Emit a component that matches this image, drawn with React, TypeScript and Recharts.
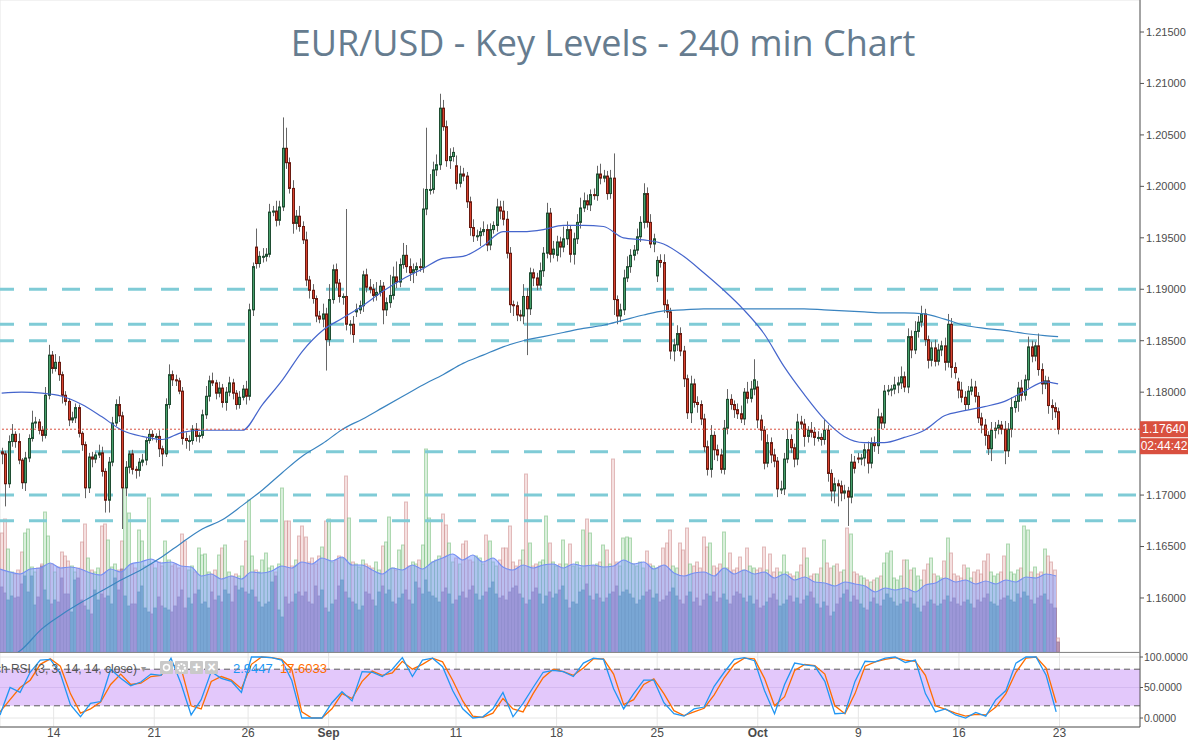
import React from 'react';
import {
  ComposedChart, Bar, Line, Area, XAxis, YAxis, CartesianGrid,
  ReferenceLine, ReferenceArea,
} from 'recharts';

const W = 1188;
const TOP_H = 652;
const BOT_H = 89;
const AXIS_W = 48;
const SLOTS = 341;
const BASE = 1.17; // candle values below are pips above this
const PRICE_DOMAIN = [1.15475, 1.21811];
const STOCH_DOMAIN = [-14.75, 108.2];
const FONT = '"Liberation Sans", Arial, sans-serif';

// 240 min closes, pips above 1.1700
const closes = [
  40, 11, 52, 59, 52, 34, 12, 36, 55, 70,
  71, 63, 58, 97, 136, 123, 129, 117, 97, 91,
  73, 75, 85, 60, 49, 7, 37, 35, 39, 41,
  23, -5, 32, 70, 88, 77, 7, 27, 40, 25,
  24, 32, 34, 53, 59, 57, 57, 45, 40, 88,
  117, 112, 111, 101, 55, 53, 53, 64, 57, 58,
  78, 96, 111, 109, 99, 104, 90, 100, 109, 99,
  88, 95, 103, 96, 180, 222, 225, 232, 232, 234,
  275, 276, 267, 280, 337, 323, 298, 264, 271, 261,
  248, 209, 199, 191, 174, 171, 176, 151, 190, 219,
  206, 193, 193, 166, 166, 156, 180, 184, 214, 202,
  200, 194, 197, 203, 180, 187, 194, 212, 207, 224,
  233, 222, 216, 219, 222, 221, 278, 297, 297, 316,
  321, 376, 358, 325, 329, 333, 303, 312, 310, 285,
  260, 252, 252, 256, 258, 243, 258, 262, 280, 276,
  268, 235, 185, 184, 175, 174, 193, 181, 216, 211,
  204, 218, 235, 274, 234, 239, 246, 241, 249, 258,
  234, 249, 265, 279, 286, 282, 292, 291, 312, 308,
  310, 293, 308, 190, 174, 180, 211, 222, 233, 238,
  251, 265, 293, 265, 244, 249, 228, 226, 185, 178,
  140, 146, 157, 140, 113, 80, 108, 90, 88, 74,
  47, 25, 58, 44, 39, 25, 65, 93, 88, 83,
  79, 74, 100, 94, 103, 112, 73, 63, 31, 51,
  39, 33, 6, 6, 35, 54, 46, 35, 71, 69,
  57, 63, 61, 56, 56, 54, 63, 21, 4, 11,
  9, 2, 4, -2, 32, 26, 35, 36, 44, 31,
  51, 48, 76, 70, 101, 102, 103, 107, 109, 115,
  105, 154, 141, 159, 168, 176, 151, 131, 143, 130,
  141, 145, 129, 166, 124, 119, 102, 95, 88, 101,
  105, 96, 75, 68, 58, 45, 63, 65, 68, 64,
  43, 64, 85, 91, 104, 97, 112, 144, 135, 145,
  122, 108, 111, 87, 85, 81, 64,
];
const firstOpen = 42;
// weekly session opens that gap away from the prior close (1-based candle)
const gapIdx = [77, 107, 137, 167, 197, 227, 257, 287];
const gapOpen = [241, 178, 320, 233, 213, 105, 36, 110];

const wickUp = [
  4, 3, 6, 10, 3, 8, 2, 6, 4, 12,
  5, 3, 4, 8, 10, 4, 8, 6, 3, 4,
  3, 6, 4, 3, 2, 3, 4, 5, 3, 8,
  6, 3, 5, 6, 5, 8, 4, 6, 3, 4,
  3, 4, 6, 3, 5, 4, 3, 6, 3, 6,
  10, 4, 5, 3, 4, 6, 5, 4, 6, 3,
  5, 10, 5, 8, 3, 6, 4, 5, 6, 4,
  3, 6, 4, 8, 6, 4, 18, 5, 8, 6,
  8, 5, 10, 6, 30, 20, 5, 8, 6, 10,
  5, 8, 4, 6, 3, 5, 10, 6, 15, 5,
  6, 4, 3, 85, 4, 8, 6, 5, 4, 6,
  8, 5, 10, 6, 4, 5, 20, 10, 15, 6,
  12, 10, 8, 6, 4, 8, 20, 60, 15, 8,
  10, 14, 8, 6, 8, 5, 10, 8, 6, 4,
  5, 8, 6, 4, 8, 5, 6, 4, 8, 6,
  10, 8, 6, 4, 4, 5, 12, 8, 5, 4,
  5, 8, 6, 10, 5, 8, 6, 5, 12, 8,
  4, 6, 8, 10, 8, 6, 5, 6, 8, 10,
  6, 5, 8, 24, 4, 6, 8, 10, 6, 5,
  8, 6, 10, 6, 8, 5, 4, 6, 8, 5,
  4, 6, 8, 6, 5, 4, 8, 5, 6, 4,
  5, 6, 10, 4, 5, 6, 8, 10, 5, 4,
  6, 8, 4, 10, 8, 20, 6, 5, 4, 8,
  5, 6, 4, 8, 6, 10, 5, 4, 8, 6,
  5, 4, 8, 5, 6, 4, 10, 5, 4, 6,
  4, 5, 6, 4, 8, 6, 5, 4, 6, 8,
  5, 6, 8, 4, 6, 5, 4, 8, 6, 10,
  5, 8, 6, 10, 6, 8, 5, 4, 6, 8,
  6, 5, 8, 10, 6, 5, 4, 8, 6, 5,
  8, 6, 4, 5, 6, 4, 8, 6, 5, 4,
  8, 6, 10, 5, 6, 8, 5, 10, 6, 4,
  12, 6, 5, 4, 6, 5, 4,
];
const wickDn = [
  10, 22, 4, 5, 6, 4, 6, 8, 4, 3,
  5, 4, 6, 3, 4, 5, 3, 6, 8, 4,
  6, 3, 5, 4, 6, 10, 5, 8, 4, 3,
  5, 12, 12, 4, 3, 6, 40, 8, 6, 5,
  8, 6, 4, 5, 3, 4, 6, 8, 12, 3,
  4, 6, 5, 3, 6, 8, 10, 4, 5, 6,
  3, 4, 5, 3, 6, 4, 5, 8, 4, 6,
  5, 4, 3, 8, 4, 6, 5, 4, 6, 5,
  3, 4, 6, 5, 4, 6, 5, 10, 6, 5,
  4, 6, 8, 5, 6, 4, 8, 30, 6, 4,
  5, 6, 8, 6, 10, 8, 5, 4, 6, 5,
  4, 6, 5, 4, 14, 6, 5, 4, 6, 5,
  4, 6, 8, 10, 6, 4, 5, 6, 5, 4,
  6, 5, 4, 6, 8, 5, 6, 4, 5, 6,
  8, 6, 5, 10, 4, 6, 5, 4, 6, 8,
  6, 5, 8, 10, 6, 5, 8, 45, 6, 8,
  5, 4, 6, 5, 8, 4, 6, 10, 5, 6,
  8, 10, 5, 6, 4, 5, 6, 4, 5, 6,
  4, 6, 5, 15, 8, 6, 5, 4, 6, 5,
  4, 5, 6, 5, 4, 8, 6, 5, 8, 6,
  8, 10, 6, 5, 8, 6, 10, 5, 8, 6,
  5, 6, 8, 10, 6, 4, 5, 6, 5, 8,
  5, 4, 6, 5, 4, 6, 8, 10, 6, 4,
  8, 6, 8, 5, 6, 4, 5, 8, 6, 5,
  10, 6, 5, 8, 4, 6, 5, 8, 10, 12,
  20, 8, 6, 28, 6, 5, 4, 6, 8, 10,
  5, 6, 8, 6, 5, 4, 6, 5, 8, 6,
  5, 6, 8, 4, 6, 5, 6, 8, 6, 5,
  4, 6, 8, 5, 10, 6, 8, 5, 6, 5,
  4, 6, 5, 8, 10, 6, 12, 8, 6, 5,
  13, 6, 8, 5, 10, 6, 5, 8, 6, 5,
  6, 10, 5, 8, 12, 6, 5,
];

// volume (two volume series) per candle
const volA = [
  119, 133, 103, 80, 78, 82, 100, 119, 123, 85,
  80, 84, 88, 140, 116, 88, 80, 85, 100, 96,
  91, 86, 80, 84, 110, 128, 94, 82, 80, 84,
  126, 128, 112, 85, 88, 82, 111, 164, 139, 88,
  84, 122, 111, 86, 154, 88, 84, 90, 86, 111,
  92, 86, 88, 84, 118, 111, 82, 86, 80, 104,
  97, 98, 80, 78, 82, 97, 104, 107, 80, 76,
  78, 76, 86, 111, 152, 96, 82, 80, 92, 99,
  84, 86, 80, 88, 164, 131, 131, 86, 92, 116,
  126, 115, 90, 94, 88, 96, 105, 131, 133, 90,
  92, 96, 94, 176, 134, 90, 88, 85, 92, 88,
  86, 84, 90, 82, 106, 110, 135, 84, 82, 102,
  107, 150, 86, 90, 88, 92, 107, 203, 134, 90,
  92, 96, 138, 127, 109, 90, 94, 88, 108, 111,
  92, 90, 96, 94, 88, 117, 111, 90, 86, 92,
  104, 104, 126, 90, 86, 92, 102, 178, 109, 86,
  88, 90, 92, 136, 109, 90, 86, 88, 112, 88,
  108, 86, 90, 84, 122, 133, 119, 86, 88, 90,
  107, 102, 88, 193, 90, 86, 114, 115, 114, 88,
  86, 90, 84, 101, 88, 86, 84, 86, 104, 109,
  122, 86, 84, 109, 102, 124, 88, 86, 90, 84,
  115, 105, 109, 86, 84, 88, 120, 84, 99, 82,
  84, 95, 82, 104, 86, 84, 82, 84, 105, 82,
  98, 80, 84, 80, 97, 80, 78, 76, 80, 87,
  104, 94, 76, 78, 78, 84, 112, 89, 84, 86,
  88, 80, 82, 124, 118, 80, 78, 76, 74, 72,
  70, 72, 74, 76, 89, 99, 101, 74, 72, 76,
  92, 92, 82, 84, 76, 72, 82, 88, 94, 78,
  76, 74, 91, 114, 99, 78, 76, 74, 87, 84,
  74, 80, 82, 78, 91, 98, 80, 76, 78, 80,
  96, 108, 80, 78, 82, 84, 126, 122, 80, 85,
  78, 80, 103, 96, 90, 82, 14,
];
const volB = [
  65, 59, 52, 56, 54, 55, 68, 76, 60, 76,
  47, 55, 86, 62, 52, 48, 52, 50, 74, 58,
  58, 40, 72, 74, 52, 46, 42, 38, 62, 52,
  58, 54, 56, 48, 74, 62, 83, 56, 46, 48,
  48, 60, 66, 44, 40, 38, 44, 55, 46, 44,
  42, 40, 46, 55, 62, 44, 54, 48, 58, 62,
  48, 50, 44, 60, 52, 56, 50, 62, 58, 50,
  66, 62, 64, 60, 58, 62, 55, 50, 45, 48,
  50, 70, 76, 42, 35, 55, 48, 50, 58, 60,
  56, 60, 50, 48, 66, 56, 62, 44, 40, 48,
  52, 66, 72, 60, 54, 50, 48, 42, 46, 60,
  58, 52, 46, 60, 66, 58, 62, 50, 48, 54,
  58, 62, 52, 48, 70, 64, 58, 72, 60, 56,
  54, 50, 60, 64, 58, 48, 52, 56, 60, 54,
  62, 66, 58, 52, 56, 60, 64, 70, 58, 54,
  56, 52, 60, 64, 66, 58, 54, 48, 52, 60,
  64, 58, 48, 56, 60, 54, 58, 62, 66, 52,
  44, 50, 48, 60, 62, 68, 56, 52, 58, 54,
  50, 54, 58, 60, 66, 56, 60, 62, 58, 54,
  48, 52, 56, 60, 62, 54, 58, 50, 52, 56,
  60, 64, 56, 52, 48, 56, 60, 50, 54, 46,
  52, 58, 56, 60, 50, 54, 58, 52, 48, 56,
  60, 58, 54, 50, 56, 48, 52, 44, 46, 50,
  54, 58, 52, 46, 48, 52, 56, 50, 54, 48,
  52, 56, 60, 54, 48, 44, 50, 46, 36, 40,
  48, 54, 58, 62, 50, 56, 52, 48, 44, 42,
  50, 54, 48, 46, 52, 58, 54, 50, 46, 48,
  52, 50, 54, 48, 44, 40, 46, 50, 52, 48,
  46, 48, 52, 56, 50, 54, 48, 46, 50, 52,
  48, 44, 52, 50, 54, 58, 50, 48, 46, 52,
  54, 56, 52, 50, 58, 54, 60, 56, 52, 48,
  54, 56, 58, 52, 48, 44, 10,
];
// volume average, read every 3rd candle
const volMA = [
  83, 80, 78, 83, 84, 89, 84, 85, 83, 79,
  77, 83, 80, 88, 90, 93, 89, 90, 86, 85,
  76, 78, 73, 76, 73, 80, 79, 81, 86, 84,
  90, 88, 94, 91, 95, 87, 87, 82, 78, 84,
  82, 87, 83, 90, 94, 98, 92, 97, 90, 94,
  85, 82, 87, 84, 87, 88, 84, 88, 86, 87,
  85, 86, 92, 88, 90, 83, 87, 79, 76, 79,
  80, 76, 84, 78, 82, 78, 80, 74, 78, 72,
  75, 70, 69, 66, 70, 68, 66, 60, 64, 62,
  64, 60, 67, 69, 74, 70, 72, 68, 71, 68,
  72, 70, 75, 74, 78, 76,
];
// Stoch RSI %K / %D, read every 3rd candle
const stochK = [
  5, 50, 42, 75, 95, 96, 73, 22, 2, 24,
  27, 80, 65, 53, 59, 72, 70, 98, 56, 5,
  30, 76, 65, 60, 42, 100, 100, 99, 95, 62,
  0, 0, 0, 25, 43, 28, 76, 75, 68, 80,
  99, 68, 95, 98, 84, 45, 15, 0, 2, 15,
  42, 2, 24, 50, 75, 78, 76, 68, 90, 98,
  96, 48, 15, 40, 62, 62, 25, 7, 3, 15,
  18, 52, 75, 96, 99, 94, 45, 7, 55, 90,
  87, 85, 60, 7, 8, 60, 93, 92, 98, 100,
  91, 95, 40, 10, 15, 5, 0, 9, 3, 30,
  45, 90, 100, 100, 70, 10,
];
const stochD = [
  10, 30, 50, 62, 88, 97, 85, 40, 8, 15,
  26, 55, 72, 55, 57, 68, 70, 88, 82, 20,
  15, 60, 68, 62, 48, 88, 100, 99, 96, 80,
  10, 0, 0, 15, 40, 32, 60, 77, 70, 74,
  93, 80, 88, 98, 92, 62, 28, 3, 1, 8,
  32, 15, 10, 40, 66, 80, 76, 70, 82, 97,
  97, 72, 22, 30, 55, 64, 40, 12, 4, 10,
  16, 38, 66, 88, 98, 97, 65, 20, 35, 78,
  88, 86, 72, 20, 7, 40, 85, 92, 96, 99,
  95, 93, 70, 20, 14, 8, 3, 6, 5, 18,
  40, 75, 98, 100, 82, 25,
];
// moving averages, pips above 1.1700, read once a day (every 6th candle) + last
const maFast = [
  99, 100, 99, 96, 88, 76, 63, 57, 54, 61,
  63, 63, 63, 88, 112, 140, 160, 172, 184, 198,
  210, 220, 230, 232, 242, 256, 256, 258, 262, 262,
  261, 250, 248, 244, 232, 216, 199, 180, 157, 125,
  98, 74, 57, 51, 51, 56, 63, 77, 82, 86,
  91, 101, 110, 108,
];
const maSlow = [
  -162, -150, -130, -116, -104, -93, -82, -72, -60, -46,
  -33, -24, -10, 5, 22, 38, 50, 64, 74, 85,
  96, 107, 117, 128, 136, 144, 150, 154, 158, 162,
  165, 170, 175, 179, 180, 181, 181, 181, 181, 181,
  181, 180, 179, 178, 177, 177, 176, 171, 165, 162,
  160, 157, 155, 154,
];

const keyLevels = [1.19, 1.1866, 1.185, 1.1742, 1.17, 1.1675];
const priceTicks = [1.155, 1.16, 1.165, 1.17, 1.175, 1.18, 1.185, 1.19, 1.195, 1.2, 1.205, 1.21, 1.215];
const stochTicks = [0, 50, 100];
const tickIdx = [16, 46, 74, 98, 136, 166, 196, 226, 256, 286, 316];
const tickLabels = ['14', '21', '26', 'Sep', '11', '18', '25', 'Oct', '9', '16', '23'];
const lastPrice = 1.1764;
const countdown = '02:44:42';
const stochLast = ['2.9447', '17.6033'];

const toPrice = (p: number) => +(BASE + p / 10000).toFixed(5);

const data: any[] = Array.from({ length: SLOTS }, (_, i) => {
  const row: any = { i };
  if (i < closes.length) {
    const g = gapIdx.indexOf(i + 1);
    const o = g >= 0 ? gapOpen[g] : i === 0 ? firstOpen : closes[i - 1];
    const c = closes[i];
    const hi = Math.max(o, c) + wickUp[i];
    const lo = Math.min(o, c) - wickDn[i];
    row.o = toPrice(o);
    row.c = toPrice(c);
    row.range = [toPrice(lo), toPrice(hi)];
    row.up = c >= o;
    row.va = volA[i];
    row.vb = volB[i];
  }
  if (i % 3 === 0 && i / 3 < volMA.length) {
    row.vm = volMA[i / 3];
    row.k = stochK[i / 3];
    row.d = stochD[i / 3];
  }
  return row;
});
maFast.forEach((v, j) => {
  const i = Math.min(j * 6, closes.length - 1);
  data[i].maF = toPrice(v);
  data[i].maS = toPrice(maSlow[j]);
});

const Candle = (props: any) => {
  const { x, y, width, height, payload } = props;
  if (!payload || !payload.range) return null;
  const [lo, hi] = payload.range;
  const top = Math.min(y, y + height);
  const h = Math.abs(height);
  const py = (v: number) => (hi === lo ? top : top + ((hi - v) / (hi - lo)) * h);
  const cx = Math.round(x + width / 2) + 0.5;
  const bTop = py(Math.max(payload.o, payload.c));
  const bBot = py(Math.min(payload.o, payload.c));
  const up = payload.up;
  return (
    <g>
      <line x1={cx} x2={cx} y1={top} y2={top + h} stroke="#666" strokeWidth={1} />
      <rect
        x={cx - 1}
        y={bTop}
        width={2}
        height={Math.max(bBot - bTop, 1)}
        fill={up ? '#46a06b' : '#d8432f'}
        stroke={up ? '#1f4d32' : '#6a1a10'}
        strokeWidth={1}
      />
    </g>
  );
};

const VolBar = (props: any) => {
  const { x, y, width, height, payload } = props;
  if (!payload || payload.va == null || !height) return null;
  const cx = Math.round(x + width / 2);
  const base = y + height;
  const hB = height * (payload.vb / payload.va);
  const up = payload.up;
  return (
    <g>
      <rect
        x={cx - 1.5} y={y} width={3} height={height}
        fill={up ? 'rgba(150,210,155,0.35)' : 'rgba(225,165,165,0.35)'}
        stroke={up ? 'rgba(130,195,135,0.6)' : 'rgba(210,150,150,0.6)'}
        strokeWidth={1}
      />
      <rect
        x={cx - 1.5} y={base - hB} width={3} height={hB}
        fill={up ? '#72b0a8' : '#b893b0'}
        stroke={up ? '#5f9c98' : '#a07f9e'}
        strokeWidth={0.8}
      />
    </g>
  );
};

const LastPriceLabel = (props: any) => {
  const vb = props.viewBox;
  if (!vb) return null;
  const x = vb.x + vb.width;
  const y = vb.y;
  return (
    <g fontFamily={FONT} fontSize={12}>
      <rect x={x} y={y - 8} width={AXIS_W} height={16} fill="#d9503f" />
      <text x={x + AXIS_W / 2} y={y + 4} textAnchor="middle" fill="#fff">{lastPrice.toFixed(5)}</text>
      <rect x={x} y={y + 9} width={AXIS_W} height={16} fill="#d9503f" />
      <text x={x + AXIS_W / 2} y={y + 21} textAnchor="middle" fill="#fff">{countdown}</text>
    </g>
  );
};

const XTick = (props: any) => {
  const { x, y, payload } = props;
  const lbl = tickLabels[tickIdx.indexOf(payload.value)];
  const bold = lbl === 'Sep' || lbl === 'Oct';
  return (
    <text x={x} y={y} dy={6} textAnchor="middle" fontSize={12} fill="#4a4a4a"
      fontWeight={bold ? 700 : 400} fontFamily={FONT}>{lbl}</text>
  );
};

const axisTick = { fontSize: 11, fill: '#4d4d4d', fontFamily: FONT };
const stochTick = { fontSize: 10.5, fill: '#4d4d4d', fontFamily: FONT };
const M0 = { top: 0, right: 0, bottom: 0, left: 0 };
const layer: React.CSSProperties = { position: 'absolute', left: 0, top: 0 };

export default function App() {
  return (
    <div style={{ position: 'absolute', left: 0, top: 0, width: W, height: TOP_H + BOT_H, background: '#fff', overflow: 'hidden' }}>
      {/* grid + volume bars */}
      <div style={layer}>
        <ComposedChart width={W} height={TOP_H} data={data} margin={M0} barCategoryGap={0}>
          <CartesianGrid stroke="#e6e6e6" />
          <XAxis dataKey="i" ticks={tickIdx} interval={0} height={0} tick={false} tickLine={false} axisLine={false} />
          <YAxis orientation="right" width={AXIS_W} domain={PRICE_DOMAIN} ticks={priceTicks} tick={false} tickLine={false} axisLine={false} allowDataOverflow />
          <YAxis yAxisId="v" hide domain={[0, TOP_H]} allowDataOverflow />
          <Bar yAxisId="v" dataKey="va" shape={VolBar} isAnimationActive={false} />
        </ComposedChart>
      </div>
      {/* volume average + key levels */}
      <div style={layer}>
        <ComposedChart width={W} height={TOP_H} data={data} margin={M0}>
          <XAxis dataKey="i" hide />
          <YAxis orientation="right" width={AXIS_W} domain={PRICE_DOMAIN} tick={false} tickLine={false} axisLine={false} allowDataOverflow />
          <YAxis yAxisId="v" hide domain={[0, TOP_H]} allowDataOverflow />
          <Area yAxisId="v" dataKey="vm" type="monotone" connectNulls fill="#7f9cff" fillOpacity={0.5}
            stroke="#7690f2" strokeWidth={1.2} dot={false} activeDot={false} isAnimationActive={false} />
          {keyLevels.map((lv) => (
            <ReferenceLine key={lv} y={lv} stroke="#7fcbd6" strokeWidth={3} strokeDasharray="18 15" strokeDashoffset={29} />
          ))}
        </ComposedChart>
      </div>
      {/* price layer */}
      <div style={layer}>
        <ComposedChart width={W} height={TOP_H} data={data} margin={M0}>
          <XAxis dataKey="i" hide />
          <YAxis orientation="right" width={AXIS_W} domain={PRICE_DOMAIN} ticks={priceTicks} allowDataOverflow
            tickFormatter={(v: number) => v.toFixed(5)} tick={axisTick}
            tickLine={{ stroke: '#555' }} tickSize={4} axisLine={{ stroke: '#555' }} />
          <Line dataKey="maS" type="monotone" connectNulls stroke="#3a84c0" strokeWidth={1.2} dot={false} activeDot={false} isAnimationActive={false} />
          <Line dataKey="maF" type="monotone" connectNulls stroke="#4565cc" strokeWidth={1.2} dot={false} activeDot={false} isAnimationActive={false} />
          <Bar dataKey="range" shape={Candle} isAnimationActive={false} />
        </ComposedChart>
      </div>
      {/* last price line and its axis boxes */}
      <div style={layer}>
        <ComposedChart width={W} height={TOP_H} data={data} margin={M0}>
          <XAxis dataKey="i" hide />
          <YAxis orientation="right" width={AXIS_W} domain={PRICE_DOMAIN} tick={false} tickLine={false} axisLine={false} allowDataOverflow />
          <ReferenceLine y={lastPrice} stroke="#d9503f" strokeDasharray="2 2" strokeWidth={1} label={<LastPriceLabel />} />
        </ComposedChart>
      </div>
      {/* stoch RSI pane */}
      <div style={{ position: 'absolute', left: 0, top: TOP_H }}>
        <ComposedChart width={W} height={BOT_H} data={data} margin={M0}>
          <CartesianGrid stroke="#e6e6e6" />
          <XAxis dataKey="i" ticks={tickIdx} interval={0} tick={<XTick />} tickLine={false} tickSize={4} tickMargin={0}
            height={14} axisLine={{ stroke: '#555' }} />
          <YAxis orientation="right" width={AXIS_W} domain={STOCH_DOMAIN} ticks={stochTicks} allowDataOverflow
            tickFormatter={(v: number) => v.toFixed(4)} tick={stochTick}
            tickLine={{ stroke: '#555' }} tickSize={3} tickMargin={1} axisLine={{ stroke: '#555' }} />
          <ReferenceArea y1={20} y2={80} fill="#e3c8fb" fillOpacity={1} stroke="none" />
          <ReferenceLine y={50} stroke="#d4b9f0" />
          <ReferenceLine y={80} stroke="#5a5a5a" strokeDasharray="6 4" />
          <ReferenceLine y={20} stroke="#5a5a5a" strokeDasharray="6 4" />
          <Line dataKey="d" type="linear" connectNulls stroke="#ff6d00" strokeWidth={1.3} dot={false} activeDot={false} isAnimationActive={false} />
          <Line dataKey="k" type="linear" connectNulls stroke="#2196f3" strokeWidth={1.3} dot={false} activeDot={false} isAnimationActive={false} />
        </ComposedChart>
      </div>
      {/* title, pane separator and indicator legend */}
      <svg width={W} height={TOP_H + BOT_H} style={{ position: 'absolute', left: 0, top: 0, pointerEvents: 'none' }}>
        <text x={603} y={56} textAnchor="middle" fontSize={36} fill="#667c8f" fontFamily='"Open Sans", sans-serif'>
          EUR/USD - Key Levels - 240 min Chart
        </text>
        <line x1={0} x2={W - AXIS_W} y1={TOP_H + 0.5} y2={TOP_H + 0.5} stroke="#8a8a8a" />
        <g fontFamily={FONT} fontSize={13}>
          <text x={137} y={673} textAnchor="end" fill="#555" fontSize={12}>Stoch RSI (3, 3, 14, 14, close)</text>
          <text x={141} y={672} fill="#999" fontSize={10}>▾</text>
          {[0, 1, 2, 3].map((n) => (
            <rect key={n} x={160 + n * 15} y={661} width={13} height={13} rx={1} fill="#c9c9c9" />
          ))}
          <circle cx={166.5} cy={667.5} r={3} fill="none" stroke="#fff" strokeWidth={1.5} />
          <circle cx={181.5} cy={667.5} r={3.5} fill="none" stroke="#fff" strokeWidth={2} strokeDasharray="2 1" />
          <text x={196.5} y={672} textAnchor="middle" fill="#fff" fontSize={14} fontWeight={700}>+</text>
          <text x={211.5} y={672} textAnchor="middle" fill="#fff" fontSize={14} fontWeight={700}>×</text>
          <text x={233} y={673} fill="#2196f3">{stochLast[0]}</text>
          <text x={280} y={673} fill="#ff6d00">{stochLast[1]}</text>
        </g>
      </svg>
    </div>
  );
}
